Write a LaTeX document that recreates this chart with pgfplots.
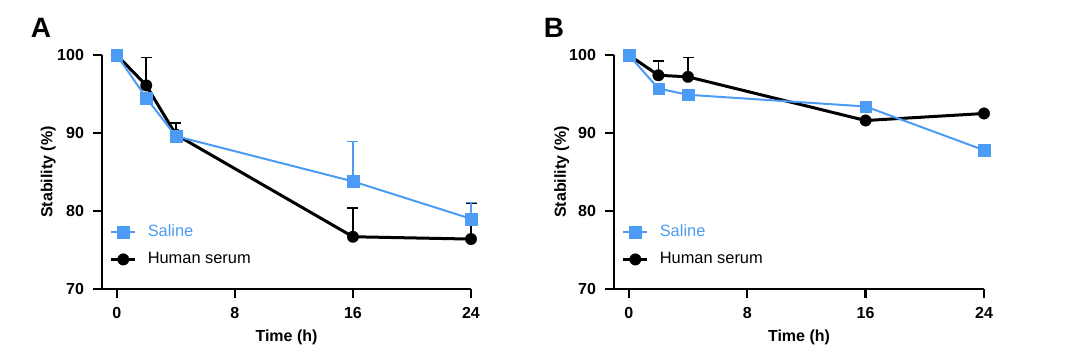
\documentclass[border=0pt]{standalone}
\usepackage{fontspec}
\setmainfont{Liberation Sans}
\usepackage{pgfplots}
\pgfplotsset{compat=1.18}
\definecolor{salblue}{HTML}{4C9BF5}

\pgfplotsset{
  panel/.style={
    scale only axis,
    width=184.5pt, height=117pt,
    xmin=-1, xmax=24, ymin=70, ymax=100,
    axis x line*=bottom, axis y line*=left,
    axis line style={line width=1.25pt, black},
    tick align=outside,
    major tick length=4.5pt,
    every tick/.style={line width=1.25pt, black},
    xtick={0,8,16,24}, ytick={70,80,90,100},
    clip=false,
    /pgf/number format/assume math mode=true,
    ticklabel style={font=\bfseries\fontsize{8}{9}\selectfont},
    xticklabel style={yshift=-1pt},
    yticklabel style={xshift=-1pt},
    label style={font=\bfseries\fontsize{8}{9.5}\selectfont},
    xlabel={Time (h)}, ylabel={Stability (\%)},
    xlabel style={at={(axis description cs:0.5,-0.205)}, anchor=center},
    legend style={draw=none, fill=none, at={(rel axis cs:0.02,0.276)}, anchor=north west,
      font=\fontsize{8.2}{9.5}\selectfont, row sep=6.3pt, column sep=5.5pt,
      inner sep=0pt, nodes={inner sep=0pt}},
    legend cell align=left,
    legend image code/.code={
      \draw (0pt,0pt) -- (12pt,0pt);
      \draw plot coordinates {(6pt,0pt)};},
  },
  saline/.style={salblue, line width=1pt, mark=square*, mark size=2.9pt,
    mark options={solid, fill=salblue, draw=salblue, line width=0.1pt},
    error bars/y dir=plus, error bars/y explicit,
    error bars/error bar style={salblue, line width=0.7pt},
    error bars/error mark options={rotate=90, mark size=2.75pt, salblue, line width=0.7pt}},
  serum/.style={black, line width=1.5pt, mark=*, mark size=2.9pt,
    mark options={solid, fill=black, line width=0.1pt},
    error bars/y dir=plus, error bars/y explicit,
    error bars/error bar style={black, line width=0.8pt},
    error bars/error mark options={rotate=90, mark size=2.75pt, black, line width=0.8pt}},
}

\begin{document}
\begin{tikzpicture}[x=1pt,y=1pt]
\path[use as bounding box] (0,0) rectangle (540,179);
\node[font=\bfseries\fontsize{14}{16}\selectfont] at (20.5,165) {A};
\node[font=\bfseries\fontsize{14}{16}\selectfont] at (277,165) {B};

\begin{axis}[panel, at={(51pt,34.5pt)}, anchor=south west,
  ylabel style={at={(axis description cs:-0.146,0.5)}, anchor=center}]
\addplot[forget plot, serum] table[x=x, y=y, y error=e] {
x y e
0 100 0
2 96.1 3.6
4 89.8 1.5
16 76.7 3.7
24 76.4 4.6
};
\addplot[saline] table[x=x, y=y, y error=e] {
x y e
0 100 0
2 94.5 0
4 89.6 0
16 83.8 5.1
24 79.0 2.1
};
\addlegendentry{\textcolor{salblue}{Saline}}
\addlegendimage{serum}
\addlegendentry{Human serum}
\end{axis}

\begin{axis}[panel, at={(307pt,34.5pt)}, anchor=south west, width=185pt,
  ylabel style={at={(axis description cs:-0.141,0.5)}, anchor=center}]
\addplot[forget plot, serum] table[x=x, y=y, y error=e] {
x y e
0 100 0
2 97.4 1.8
4 97.2 2.5
16 91.6 0
24 92.5 0
};
\addplot[saline] table[x=x, y=y, y error=e] {
x y e
0 100 0
2 95.7 0
4 94.9 0
16 93.4 0
24 87.8 0
};
\addlegendentry{\textcolor{salblue}{Saline}}
\addlegendimage{serum}
\addlegendentry{Human serum}
\end{axis}
\end{tikzpicture}
\end{document}
